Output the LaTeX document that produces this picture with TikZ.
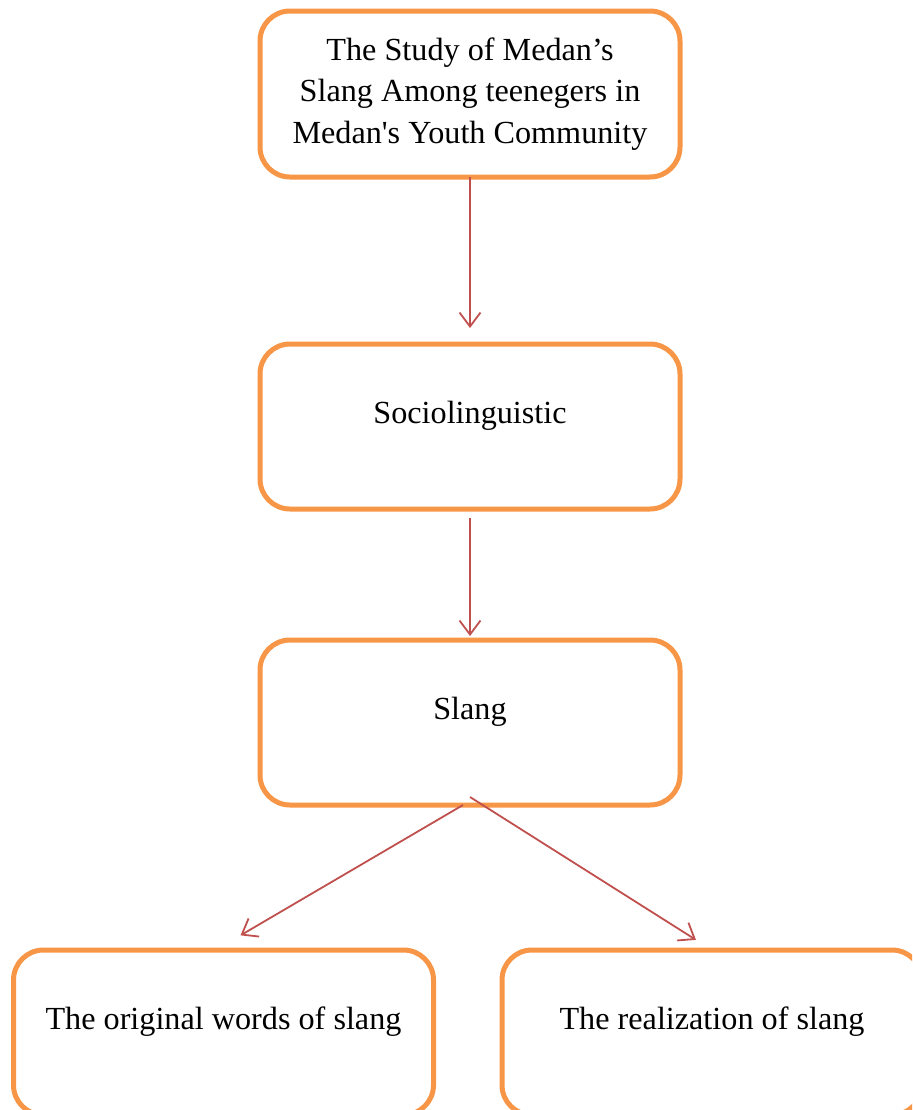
\documentclass[tikz,border=0pt]{standalone}
\usepackage{fontspec}
\setmainfont{Liberation Serif}
\usetikzlibrary{positioning}
\usetikzlibrary{arrows.meta}
\definecolor{boxorange}{HTML}{F79646}
\definecolor{arrowred}{HTML}{C0504D}

\begin{document}
\begin{tikzpicture}[x=0.5pt,y=-0.5pt,
  every node/.style={draw=boxorange,line width=2.5pt,rounded corners=15pt,outer sep=0pt,minimum width=210pt,font=\fontsize{16.1}{20.7}\selectfont},
  topbox/.style={minimum height=83pt,align=center},
  flowbox/.style={inner ysep=0pt,text height=39.5pt,text depth=43pt},
  link/.style={arrowred,line width=0.9pt,-{Straight Barb[length=7pt,width=10.5pt]}}]
  \useasboundingbox (0,0) rectangle (912,1110);
  \clip (0,0) rectangle (912,1110);

  \node[topbox] (study) at (470,94) {The Study of Medan’s\\Slang Among teenegers in\\Medan\textquotesingle s Youth Community};
  \node[flowbox,below=83.5pt of study] (socio) {Sociolinguistic};
  \node[flowbox,below=65.5pt of socio] (slang) {Slang};
  \node[flowbox,anchor=north] (origin) at (223.5,950) {The original words of slang};
  \node[flowbox,anchor=north] (real) at (712,950) {The realization of slang};

  \draw[link,shorten >=8pt](study.south)--(socio.north);
  \draw[link,shorten <=4.5pt,shorten >=2pt](socio.south)--(slang.north);
  \draw[link,shorten >=14.5pt]([xshift=-3.5pt]slang.south)--([xshift=-4pt]origin.north);
  \draw[link,shorten >=9.5pt]([yshift=4pt]slang.south)--(real.north);
\end{tikzpicture}
\end{document}
